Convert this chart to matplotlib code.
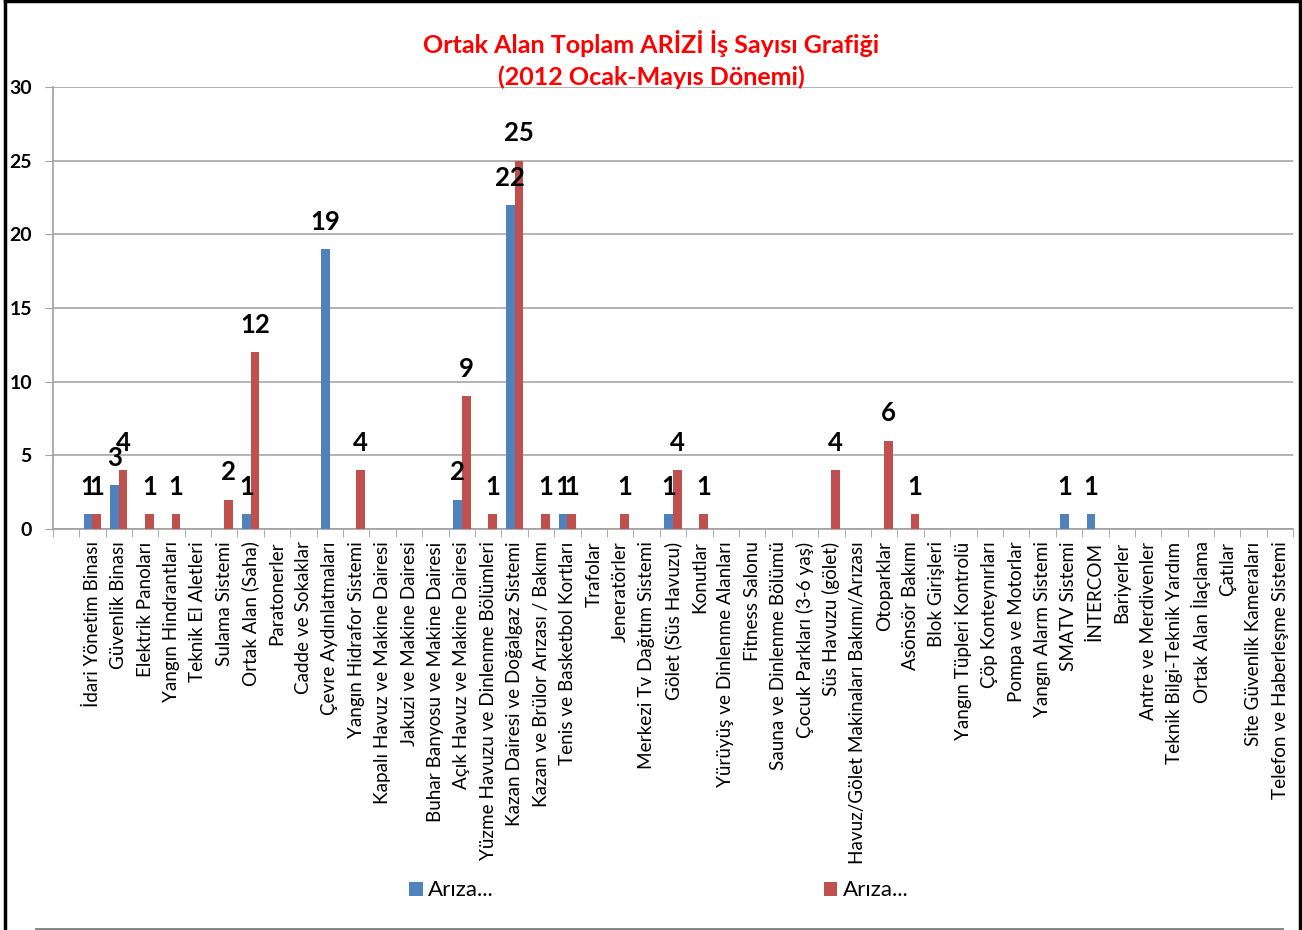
import numpy as np
import matplotlib
matplotlib.use("Agg")
import matplotlib.pyplot as plt
from matplotlib.lines import Line2D
from matplotlib.patches import Patch

# ------------------------------------------------------------------
# Data (first category is an empty slot in the original chart)
# ------------------------------------------------------------------
categories = [
    "",
    "İdari Yönetim Binası",
    "Güvenlik Binası",
    "Elektrik Panoları",
    "Yangın Hindrantları",
    "Teknik El Aletleri",
    "Sulama Sistemi",
    "Ortak Alan (Saha)",
    "Paratonerler",
    "Cadde ve Sokaklar",
    "Çevre Aydınlatmaları",
    "Yangın Hidrafor Sistemi",
    "Kapalı Havuz ve Makine Dairesi",
    "Jakuzi ve Makine Dairesi",
    "Buhar Banyosu ve Makine Dairesi",
    "Açık Havuz ve Makine Dairesi",
    "Yüzme Havuzu ve Dinlenme Bölümleri",
    "Kazan Dairesi ve Doğalgaz Sistemi",
    "Kazan ve Brülor Arızası / Bakımı",
    "Tenis ve Basketbol Kortları",
    "Trafolar",
    "Jeneratörler",
    "Merkezi Tv Dağıtım Sistemi",
    "Gölet (Süs Havuzu)",
    "Konutlar",
    "Yürüyüş ve Dinlenme Alanları",
    "Fitness Salonu",
    "Sauna ve Dinlenme Bölümü",
    "Çocuk Parkları (3-6 yaş)",
    "Süs Havuzu (gölet)",
    "Havuz/Gölet Makinaları Bakımı/Arızası",
    "Otoparklar",
    "Asönsör Bakımı",
    "Blok Girişleri",
    "Yangın Tüpleri Kontrolü",
    "Çöp Konteynırları",
    "Pompa ve Motorlar",
    "Yangın Alarm Sistemi",
    "SMATV Sistemi",
    "İNTERCOM",
    "Bariyerler",
    "Antre ve Merdivenler",
    "Teknik Bilgi-Teknik Yardım",
    "Ortak Alan İlaçlama",
    "Çatılar",
    "Site Güvenlik Kameraları",
    "Telefon ve Haberleşme Sistemi",
]

series_1 = [0, 1, 3, 0, 0, 0, 0, 1, 0, 0, 19, 0, 0, 0, 0, 2, 0, 22, 0, 1,
            0, 0, 0, 1, 0, 0, 0, 0, 0, 0, 0, 0, 0, 0, 0, 0, 0, 0, 1, 1,
            0, 0, 0, 0, 0, 0, 0]
series_2 = [0, 1, 4, 1, 1, 0, 2, 12, 0, 0, 0, 4, 0, 0, 0, 9, 1, 25, 1, 1,
            0, 1, 0, 4, 1, 0, 0, 0, 0, 4, 0, 6, 1, 0, 0, 0, 0, 0, 0, 0,
            0, 0, 0, 0, 0, 0, 0]
legend_labels = ["Arıza...", "Arıza..."]

title = "Ortak Alan Toplam ARİZİ İş Sayısı Grafiği\n(2012 Ocak-Mayıs Dönemi)"

BLUE = "#4F81BD"
RED = "#C0504D"
FONT = ["Lato", "DejaVu Sans"]


def main() -> None:
    plt.rcParams["font.family"] = FONT

    fig = plt.figure(figsize=(13.02, 9.30), dpi=100)
    ax = fig.add_axes([0.0405, 0.4312, 0.9528, 0.4753])

    x = np.arange(len(categories))
    w = 0.33
    ax.bar(x - w / 2, series_1, width=w, color=BLUE, zorder=3)
    ax.bar(x + w / 2, series_2, width=w, color=RED, zorder=3)

    # data labels (non-zero only)
    for xs, vals in ((x - w / 2, series_1), (x + w / 2, series_2)):
        for xi, v in zip(xs, vals):
            if v:
                ax.annotate(str(v), (xi, v), xytext=(0, 11),
                            textcoords="offset points", ha="center",
                            va="bottom", fontsize=18.5, fontweight="bold",
                            color="black", zorder=4)

    ax.set_xlim(-0.5, len(categories) - 0.5)
    ax.set_ylim(0, 30)
    ax.set_yticks(np.arange(0, 31, 5))
    ax.yaxis.grid(True, color="#A6A6A6", linewidth=1.2, zorder=0)
    ax.set_axisbelow(True)

    for s in ("top", "right"):
        ax.spines[s].set_visible(False)
    ax.spines["left"].set_color("#A0A0A0")
    ax.spines["bottom"].set_color("#A0A0A0")
    ax.spines["left"].set_linewidth(1.2)
    ax.spines["bottom"].set_linewidth(1.2)

    ax.tick_params(axis="y", length=6, color="#A0A0A0", pad=9,
                   labelsize=14)
    for lbl in ax.get_yticklabels():
        lbl.set_fontweight("bold")

    # category labels at centers, tick marks at boundaries
    ax.set_xticks(x)
    ax.set_xticklabels(categories, rotation=90, fontsize=13.6,
                       va="top", ha="center")
    ax.tick_params(axis="x", which="major", length=0, pad=9)
    ax.set_xticks(np.arange(-0.5, len(categories), 1.0), minor=True)
    ax.tick_params(axis="x", which="minor", length=6, color="#A0A0A0")

    fig.text(0.5, 0.936, title, ha="center", va="center", color="#FF0000",
             fontsize=18, fontweight="bold", linespacing=1.45)

    handles = [Patch(facecolor=BLUE), Patch(facecolor=RED)]
    fig.legend(handles[:1], legend_labels[:1], loc="center left",
               bbox_to_anchor=(0.299, 0.0425), frameon=False, fontsize=16,
               handlelength=0.6, handleheight=0.6, handletextpad=0.25)
    fig.legend(handles[1:], legend_labels[1:], loc="center left",
               bbox_to_anchor=(0.6175, 0.0425), frameon=False, fontsize=16,
               handlelength=0.6, handleheight=0.6, handletextpad=0.25)

    # chart frame
    fig.add_artist(Line2D([0.0042, 0.0042], [0.0, 0.999], color="black",
                          linewidth=2.5, transform=fig.transFigure))
    fig.add_artist(Line2D([0.9985, 0.9985], [0.0, 0.999], color="black",
                          linewidth=2.5, transform=fig.transFigure))
    fig.add_artist(Line2D([0.0042, 0.9985], [0.999, 0.999], color="black",
                          linewidth=2.5, transform=fig.transFigure))
    fig.add_artist(Line2D([0.028, 0.985], [0.0015, 0.0015], color="#808080",
                          linewidth=2, transform=fig.transFigure))

    fig.savefig("out.png", dpi=100)
    plt.close(fig)


if __name__ == "__main__":
    main()
